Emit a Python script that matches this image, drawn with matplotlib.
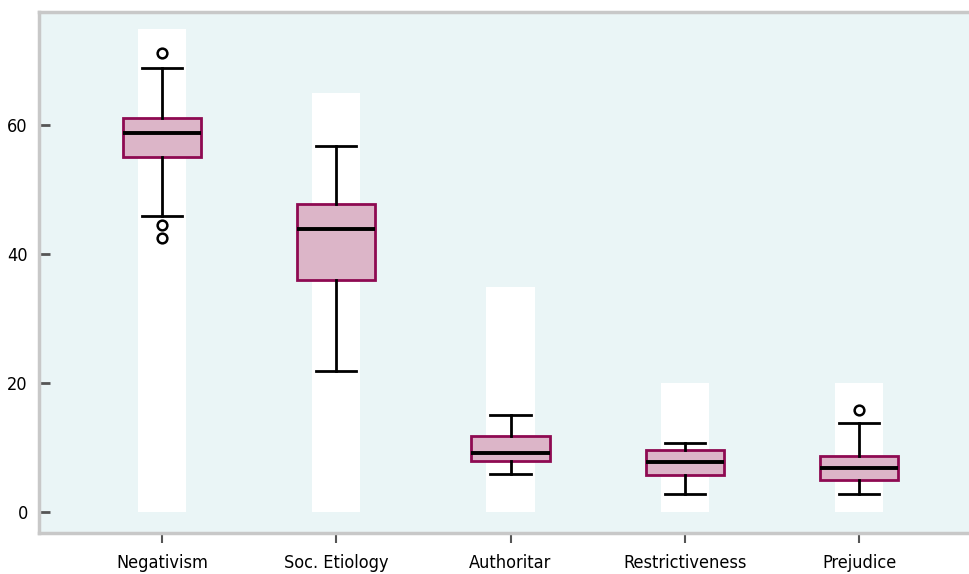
import matplotlib.pyplot as plt

# Skale: nazwy i maksymalny możliwy wynik (białe pasy w tle)
scales = ["Negativism", "Soc. Etiology", "Authoritar", "Restrictiveness", "Prejudice"]
scale_max = [75, 65, 35, 20, 20]

# Statystyki pudełek
q1 = [55.1, 36.0, 8.0, 5.85, 5.0]
med = [58.9, 44.0, 9.2, 7.8, 6.9]
q3 = [61.2, 47.9, 11.9, 9.7, 8.7]
whislo = [45.9, 21.9, 5.9, 2.9, 2.9]
whishi = [68.9, 56.8, 15.1, 10.8, 13.8]
outliers = [[71.2, 44.5, 42.6], [], [], [], [15.9]]

bg = "#eaf5f6"
face = "#dcb5c8"
edge = "#8e0a52"
spine = "#c8c8c8"

plt.rcParams['font.family'] = ['DejaVu Sans']
plt.rcParams['font.stretch'] = 'condensed'

fig = plt.figure(figsize=(9.69, 5.74), dpi=100)
ax = fig.add_axes([39 / 969, 41 / 574, 930 / 969, 521 / 574])
ax.set_facecolor(bg)

pos = list(range(len(scales)))

# Białe pasy zakresu skali
ax.bar(pos, scale_max, width=0.276, color="white", zorder=1)

stats = []
for i in pos:
    stats.append(dict(med=med[i], q1=q1[i], q3=q3[i],
                      whislo=whislo[i], whishi=whishi[i],
                      fliers=outliers[i], label=scales[i]))

ax.bxp(stats, positions=pos, widths=0.45, patch_artist=True,
       boxprops=dict(facecolor=face, edgecolor=edge, linewidth=2),
       medianprops=dict(color="black", linewidth=2.8),
       whiskerprops=dict(color="black", linewidth=2),
       capprops=dict(color="black", linewidth=2),
       flierprops=dict(marker="o", markersize=7, markerfacecolor="white",
                       markeredgecolor="black", markeredgewidth=1.8),
       capwidths=0.23, zorder=3)

ax.set_xlim(-0.706, 4.631)
ax.set_ylim(-3.2, 77.6)
ax.set_yticks([0, 20, 40, 60])
ax.set_xticks(pos)
ax.set_xticklabels(scales)

for s in ["top", "left", "bottom"]:
    ax.spines[s].set_color(spine)
    ax.spines[s].set_linewidth(2.5)
ax.spines["right"].set_visible(False)

ax.tick_params(axis="y", direction="in", length=8, width=2, color="#555555",
               labelsize=13, pad=8)
ax.tick_params(axis="x", length=7, width=1.5, color="#555555", labelsize=13, pad=8)

plt.savefig("out.png", dpi=100)
